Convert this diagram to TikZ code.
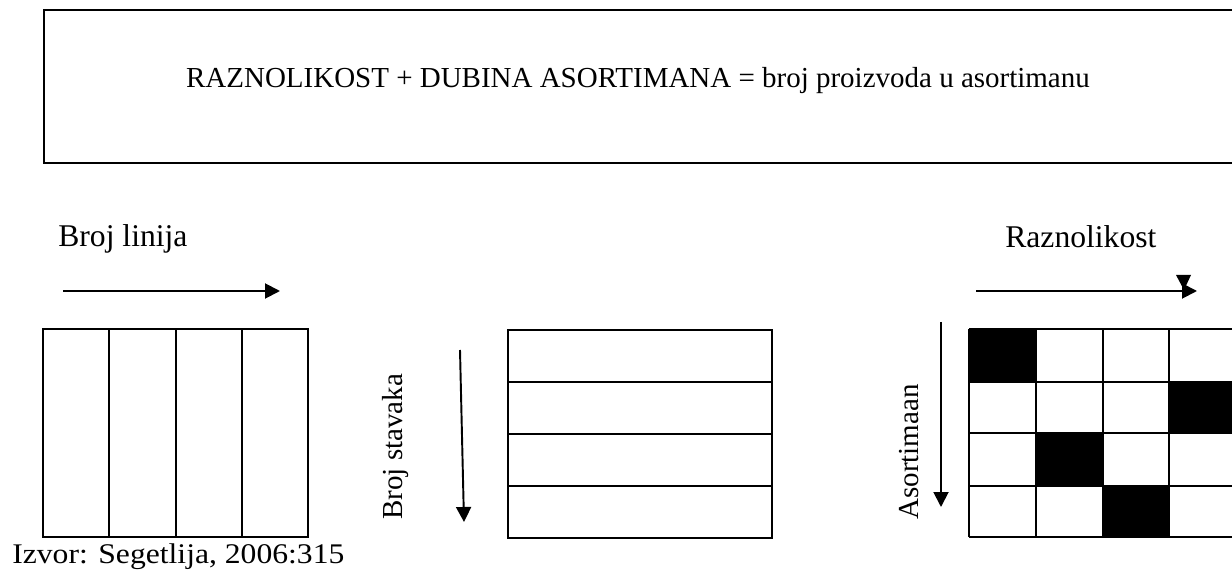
\documentclass[tikz,border=0pt]{standalone}
\usepackage{fontspec}
\setmainfont{Liberation Serif}
\usetikzlibrary{arrows.meta}

\tikzset{
  txt/.style={inner sep=0pt, font=\fontsize{16.5}{20}\selectfont},
  big/.style={txt, font=\fontsize{18}{22}\selectfont},
  cell/.style={line width=1.3pt},
  arr/.style={line width=1.1pt, -{Triangle[length=0.3cm,width=0.3cm]}}
}

\begin{document}
\begin{tikzpicture}[x=0.02cm,y=-0.02cm]
  \clip (0,0) rectangle (1232,574);
  % formula box (runs off the right edge)
  \draw[line width=1.7pt] (44,10) rectangle (1260,163);
  \node[txt,anchor=base] (formula) at (638,88) {RAZNOLIKOST + DUBINA ASORTIMANA = broj proizvoda u asortimanu};
  % lines
  \node[big,anchor=base west] (linije) at (58,247) {Broj linija};
  \coordinate (l1) at (63,291);
  \coordinate (l2) at (280,291);
  \draw[arr] (l1) -- (l2);
  \draw[cell] (43,329) rectangle (308,537);
  \foreach \gx in {109,176,242}
    \draw[cell] (\gx,329) -- (\gx,537);
  \node[big,anchor=base west,yscale=0.9] (izvor) at (12,563) {Izvor: Segetlija, 2006:315};
  % items
  \node[txt,anchor=base west,rotate=90] (stavke) at (402,520) {Broj stavaka};
  \coordinate (s1) at (460,350);
  \coordinate (s2) at (464,522);
  \draw[arr] (s1) -- (s2);
  \draw[cell] (508,330) rectangle (772,538);
  \foreach \gy in {382,434,486}
    \draw[cell] (508,\gy) -- (772,\gy);
  % assortment
  \node[big,anchor=base west] (razn) at (1005,248) {Raznolikost};
  \coordinate (r1) at (976,291);
  \coordinate (r2) at (1197,291);
  \draw[arr] (r1) -- (r2);
  \fill (1176,275) -- (1191,275) -- (1184,290) -- cycle;
  \node[txt,anchor=base west,rotate=90] (asort) at (918,520) {Asortimaan};
  \coordinate (a1) at (941,322);
  \coordinate (a2) at (941,507);
  \draw[arr] (a1) -- (a2);
  \foreach \c/\r in {0/0,3/1,1/2,2/3}
    \fill ({969+66.75*\c},{329+52*\r}) rectangle ++(66.75,52);
  \foreach \gx in {969,1036,1103,1169,1236}
    \draw[cell] (\gx,329) -- (\gx,537);
  \foreach \gy in {329,382,433,486,537}
    \draw[cell] (969,\gy) -- (1240,\gy);
\end{tikzpicture}
\end{document}
